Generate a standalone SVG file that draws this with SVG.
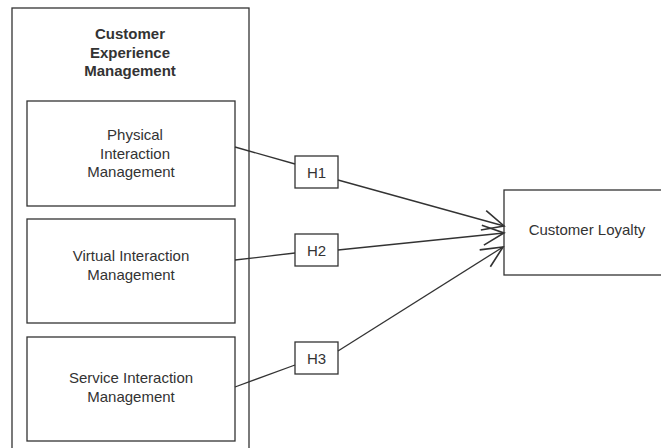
<svg xmlns="http://www.w3.org/2000/svg" width="661" height="448" viewBox="0 0 661 448">
<style>
.box{fill:#fff;stroke:#333;stroke-width:1.3}
.t{font-family:"Liberation Sans",Arial,sans-serif;font-size:15px;fill:#333;text-anchor:middle}
.b{font-weight:bold}
.c{fill:none;stroke:#333;stroke-width:1.3}
</style>
<defs>
<marker id="open" markerUnits="userSpaceOnUse" markerWidth="30" markerHeight="30" refX="0" refY="0" viewBox="-20 -12 24 24" orient="auto" overflow="visible">
<path d="M-17,-8 L0,0 L-17,8" fill="none" stroke="#333" stroke-width="1.3"/>
</marker>
</defs>
<rect width="661" height="448" fill="#fff"/>
<g id="cem">
<rect class="box" x="12" y="8" width="237" height="460"/>
<text class="t b" x="130" y="39">Customer</text>
<text class="t b" x="130" y="57.5">Experience</text>
<text class="t b" x="130" y="76">Management</text>
</g>
<g id="physical">
<rect class="box" x="27" y="101" width="208" height="105"/>
<text class="t" x="135" y="140">Physical</text>
<text class="t" x="135" y="158.5">Interaction</text>
<text class="t" x="131" y="177">Management</text>
</g>
<g id="virtual">
<rect class="box" x="27" y="219" width="208" height="104"/>
<text class="t" x="131" y="261">Virtual Interaction</text>
<text class="t" x="131" y="280">Management</text>
</g>
<g id="service">
<rect class="box" x="27" y="337" width="208" height="104"/>
<text class="t" x="131" y="383">Service Interaction</text>
<text class="t" x="131" y="402">Management</text>
</g>
<g id="h1">
<rect class="box" x="295" y="156" width="43" height="32"/>
<text class="t" x="316.5" y="177.5">H1</text>
</g>
<g id="h2">
<rect class="box" x="295" y="234" width="43" height="32"/>
<text class="t" x="316.5" y="255.5">H2</text>
</g>
<g id="h3">
<rect class="box" x="295" y="342" width="43" height="32"/>
<text class="t" x="316.5" y="363.5">H3</text>
</g>
<g id="loyalty">
<rect class="box" x="504" y="190" width="170" height="85"/>
<text class="t" x="587" y="235">Customer Loyalty</text>
</g>
<g id="connectors">
<line class="c" x1="235" y1="147" x2="295" y2="164"/>
<line class="c" x1="235" y1="260" x2="295" y2="253"/>
<line class="c" x1="235" y1="387" x2="295" y2="365"/>
<line class="c" x1="338" y1="180" x2="504" y2="226" marker-end="url(#open)"/>
<line class="c" x1="338" y1="250" x2="504" y2="233" marker-end="url(#open)"/>
<line class="c" x1="338" y1="351" x2="503" y2="247" marker-end="url(#open)"/>
</g>
</svg>
